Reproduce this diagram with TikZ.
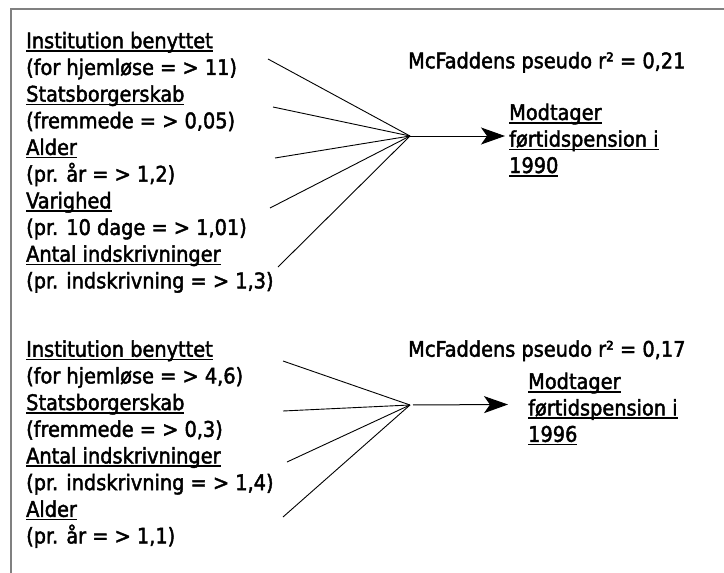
\documentclass[tikz,border=0pt]{standalone}
\usepackage{fontspec}
\setmainfont[FakeBold=2]{DejaVu Sans Condensed}
\usetikzlibrary{arrows.meta}
\newsavebox{\ulboks}
\newcommand{\understreg}[1]{\sbox{\ulboks}{#1}\rlap{\rule[-3.5pt]{\wd\ulboks}{1.6pt}}\usebox{\ulboks}}
\begin{document}
\begin{tikzpicture}[x=1pt, y=-1pt,
	tekst/.style={anchor=base west, inner sep=0pt, font=\fontsize{21.5}{24}\selectfont},
	streg/.style={line width=0.9pt},
	pil/.style={line width=1pt, -{Stealth[length=24pt, width=17pt, inset=6pt]}}]
	\useasboundingbox (0,0) rectangle (724,573);
	% Ramme
	\draw [gray, line width=1.5pt] (11,573) -- (11,9) -- (724,9);
	%%%% Model 1990
	\foreach \t [count=\i] in {{\understreg{Institution benyttet}}, {(for hjemløse = > 11)}, {\understreg{Statsborgerskab}}, {(fremmede = > 0,05)}, {\understreg{Alder}}, {(pr. år = > 1,2)}, {\understreg{Varighed}}, {(pr. 10 dage = > 1,01)}, {\understreg{Antal indskrivninger}}, {(pr. indskrivning = > 1,3)}} {
		\node [tekst] (a\i) at (26,{21.6+26.67*\i}) {\t};
	}
	\node [tekst] (r1) at (408,68.3) {McFaddens pseudo r² = 0,21};
	\node [tekst] (m11) at (509,120) {\understreg{Modtager}};
	\node [tekst] (m12) at (509,146.6) {\understreg{førtidspension i}};
	\node [tekst] (m13) at (509,173) {\understreg{1990}};
	% Linjer til knudepunkt
	\coordinate (nav1) at (410,136);
	\foreach \x/\y [count=\i] in {268/59, 273/107, 275/158, 270/208, 278/267} {
		\coordinate (u\i) at (\x,\y);
		\draw [streg] (u\i) -- (nav1);
	}
	\coordinate (spids1) at (505,136);
	\draw [pil] (nav1) -- (spids1);
	%%%% Model 1996
	\foreach \t [count=\i] in {{\understreg{Institution benyttet}}, {(for hjemløse = > 4,6)}, {\understreg{Statsborgerskab}}, {(fremmede = > 0,3)}, {\understreg{Antal indskrivninger}}, {(pr. indskrivning = > 1,4)}, {\understreg{Alder}}, {(pr. år = > 1,1)}} {
		\node [tekst] (b\i) at (26,{330.1+26.67*\i}) {\t};
	}
	\node [tekst] (r2) at (408,356.7) {McFaddens pseudo r² = 0,17};
	\node [tekst] (m21) at (528,389) {\understreg{Modtager}};
	\node [tekst] (m22) at (528,415.5) {\understreg{førtidspension i}};
	\node [tekst] (m23) at (528,441.8) {\understreg{1996}};
	% Linjer til knudepunkt
	\coordinate (nav2) at (410,405);
	\foreach \x/\y [count=\i] in {283/361, 283/411, 287/462, 283/517} {
		\coordinate (v\i) at (\x,\y);
		\draw [streg] (v\i) -- (nav2);
	}
	\coordinate (spids2) at (508,404.5);
	\draw [pil, shorten <=3pt] (nav2) -- (spids2);
\end{tikzpicture}
\end{document}
